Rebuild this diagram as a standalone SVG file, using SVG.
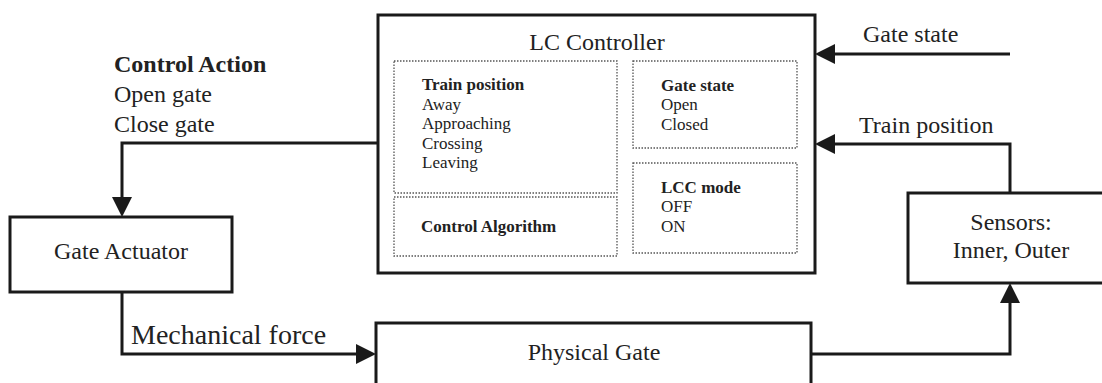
<svg xmlns="http://www.w3.org/2000/svg" width="1102" height="383" viewBox="0 0 1102 383">
  <style>
    .box { fill: #fff; stroke: #1a1a1a; stroke-width: 3; }
    .sub { fill: none; stroke: #555; stroke-width: 1.3; stroke-dasharray: 1.5 1.5; }
    .wire { fill: none; stroke: #1a1a1a; stroke-width: 3; }
    text { font-family: "Liberation Serif", "Times New Roman", serif; fill: #222; }
    .lg { font-size: 24px; }
    .sm { font-size: 17px; }
    .b { font-weight: bold; }
    .mid { text-anchor: middle; }
  </style>
  <defs>
    <marker id="arrow" markerUnits="userSpaceOnUse" markerWidth="20" markerHeight="20" refX="0" refY="10" orient="auto">
      <path d="M0,0 L20,10 L0,20 Z" fill="#1a1a1a"/>
    </marker>
  </defs>

  <!-- connectors -->
  <g id="connectors">
    <path class="wire" d="M378,143 H122 V197" marker-end="url(#arrow)"/>
    <path class="wire" d="M122,292 V354 H356" marker-end="url(#arrow)"/>
    <path class="wire" d="M811,354 H1010 V303" marker-end="url(#arrow)"/>
    <path class="wire" d="M1010,193 V144 H835" marker-end="url(#arrow)"/>
    <path class="wire" d="M1010,54 H835" marker-end="url(#arrow)"/>
    <text class="lg" x="863" y="42">Gate state</text>
    <text class="lg" x="859" y="133">Train position</text>
    <text class="lg b" x="114" y="72">Control Action</text>
    <text class="lg" x="114" y="102">Open gate</text>
    <text class="lg" x="114" y="132">Close gate</text>
    <text x="131" y="344" style="font-size:28px">Mechanical force</text>
  </g>

  <!-- controller with its internal panels -->
  <g id="lc-controller">
    <rect class="box" x="378" y="15" width="437" height="258"/>
    <text class="lg mid" x="597" y="50">LC Controller</text>
    <rect class="sub" x="394" y="61" width="223" height="132"/>
    <text class="sm b" x="422" y="90">Train position</text>
    <text class="sm" x="422" y="109.5">Away</text>
    <text class="sm" x="422" y="129">Approaching</text>
    <text class="sm" x="422" y="148.5">Crossing</text>
    <text class="sm" x="422" y="168">Leaving</text>
    <rect class="sub" x="394" y="197" width="223" height="59"/>
    <text class="sm b" x="421" y="232">Control Algorithm</text>
    <rect class="sub" x="633" y="61" width="164" height="87"/>
    <text class="sm b" x="661" y="91">Gate state</text>
    <text class="sm" x="661" y="110">Open</text>
    <text class="sm" x="661" y="130">Closed</text>
    <rect class="sub" x="633" y="163" width="164" height="90"/>
    <text class="sm b" x="661" y="193">LCC mode</text>
    <text class="sm" x="661" y="212">OFF</text>
    <text class="sm" x="661" y="232">ON</text>
  </g>

  <g id="gate-actuator">
    <rect class="box" x="10" y="217" width="222" height="75"/>
    <text class="lg mid" x="121" y="259">Gate Actuator</text>
  </g>

  <g id="physical-gate">
    <rect class="box" x="376" y="323" width="435" height="62"/>
    <text class="lg mid" x="594" y="360">Physical Gate</text>
  </g>

  <g id="sensors">
    <rect class="box" x="908" y="193" width="210" height="90"/>
    <text class="lg mid" x="1011" y="230">Sensors:</text>
    <text class="lg mid" x="1011" y="258">Inner, Outer</text>
  </g>
</svg>
